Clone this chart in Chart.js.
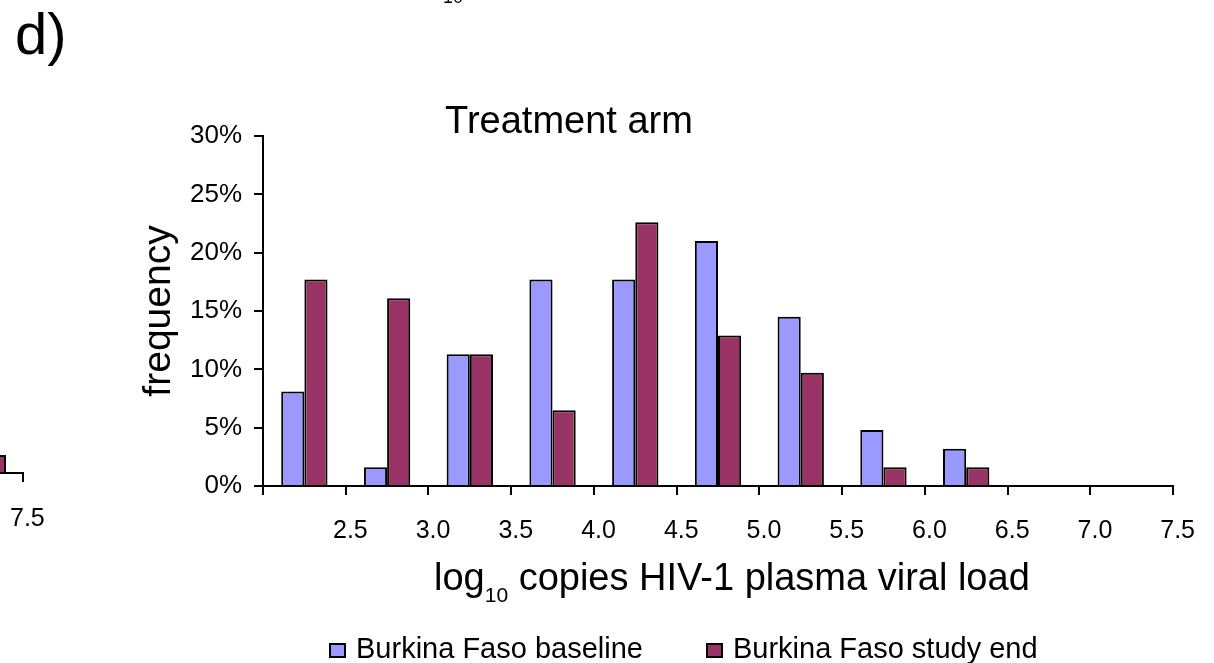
<!DOCTYPE html>
<html>
<head>
<meta charset="utf-8">
<script src="https://cdn.jsdelivr.net/npm/chart.js@4.4.1/dist/chart.umd.min.js"></script>
<style>
  body { margin: 0; background: #fff; }
  #wrap { position: relative; width: 1214px; height: 663px; overflow: hidden; font-family: "Liberation Sans", Arial, sans-serif; color: #000; }
  #wrap canvas { position: absolute; left: 0; top: 0; }
  .txt { position: absolute; line-height: 1; white-space: nowrap; }
  #legend { position: absolute; left: 329px; top: 634px; display: flex; gap: 63px; font-size: 29px; line-height: 1; white-space: nowrap; }
  #legend .sw { display: inline-block; width: 17px; height: 15px; box-sizing: border-box; border: 2px solid #000; margin-right: 10px; }
  .frag { position: absolute; box-sizing: border-box; }
</style>
</head>
<body>
<div id="wrap">
  <canvas id="c" width="1214" height="663"></canvas>

  <div class="txt" style="left:15px; top:5px; font-size:58px;">d)</div>
  <div class="txt" style="left:443px; top:-12px; font-size:18px;">10</div>
  <div class="txt" style="left:569px; top:101px; font-size:38px; transform:translateX(-50%);">Treatment arm</div>
  <div class="txt" style="left:434px; top:558px; font-size:38px;">log<span style="font-size:21px; vertical-align:-12px;">10</span> copies HIV-1 plasma viral load</div>

  <!-- edge of the neighbouring panel -->
  <div class="frag" style="left:-2px; top:455px; width:8px; height:19px; background:#993366; border:2px solid #000;"></div>
  <div class="frag" style="left:0; top:472px; width:24px; height:2px; background:#000;"></div>
  <div class="frag" style="left:22px; top:472px; width:2px; height:10px; background:#000;"></div>
  <div class="txt" style="left:10px; top:505px; font-size:25px;">7.5</div>

  <div id="legend"></div>
</div>
<script>
const binLabels = ["2.5", "3.0", "3.5", "4.0", "4.5", "5.0", "5.5", "6.0", "6.5", "7.0", "7.5"];
// % of patients per viral load bin
const baselinePct = [8.1, 1.6, 11.3, 17.7, 17.7, 21.0, 14.5, 4.8, 3.2, 0, 0];
const studyEndPct = [17.7, 16.1, 11.3, 6.5, 22.6, 12.9, 9.7, 1.6, 1.6, 0, 0];
const seriesNames = ["Burkina Faso baseline", "Burkina Faso study end"];
const yMax = 30;
const yStep = 5;

const fontFamily = '"Liberation Sans", Arial, sans-serif';
const blue = "#9999FF";
const maroon = "#993366";

const ctx = document.getElementById("c").getContext("2d");

const chart = new Chart(ctx, {
    type: "bar",
    data: {
        labels: binLabels,
        datasets: [{
            label: seriesNames[0],
            data: baselinePct,
            backgroundColor: blue,
            borderColor: "#000",
            borderWidth: 2
        }, {
            label: seriesNames[1],
            data: studyEndPct,
            backgroundColor: maroon,
            borderColor: "#000",
            borderWidth: 2
        }]
    },
    options: {
        responsive: false,
        animation: false,
        layout: { padding: { left: 136, right: 41, top: 136, bottom: 0 } },
        datasets: { bar: { categoryPercentage: 0.56, barPercentage: 1 } },
        plugins: {
            legend: { display: false },
            tooltip: { enabled: false }
        },
        scales: {
            x: {
                offset: true,
                grid: { offset: true, drawOnChartArea: false, tickLength: 9, color: "#000", lineWidth: 2 },
                border: { color: "#000", width: 2 },
                ticks: {
                    color: "#000",
                    font: { family: fontFamily, size: 25 },
                    labelOffset: 46,
                    padding: 21,
                    autoSkip: false,
                    maxRotation: 0
                },
                afterFit: function (s) { s.height = 177; }
            },
            y: {
                min: 0,
                max: yMax,
                grid: { drawOnChartArea: false, tickLength: 9, color: "#000", lineWidth: 2 },
                border: { color: "#000", width: 2 },
                ticks: {
                    stepSize: yStep,
                    color: "#000",
                    padding: 12,
                    font: { family: fontFamily, size: 26 },
                    callback: function (v) { return v + "%"; }
                },
                title: {
                    display: true,
                    text: "frequency",
                    color: "#000",
                    padding: 0,
                    font: { family: fontFamily, size: 39 }
                },
                afterFit: function (s) { s.width = 127; }
            }
        }
    }
});

// legend built from the chart's own items
const legendEl = document.getElementById("legend");
chart.options.plugins.legend.labels.generateLabels(chart).forEach(function (item) {
    const el = document.createElement("div");
    const sw = document.createElement("span");
    sw.className = "sw";
    sw.style.background = item.fillStyle;
    el.appendChild(sw);
    el.appendChild(document.createTextNode(item.text));
    legendEl.appendChild(el);
});
</script>
</body>
</html>
